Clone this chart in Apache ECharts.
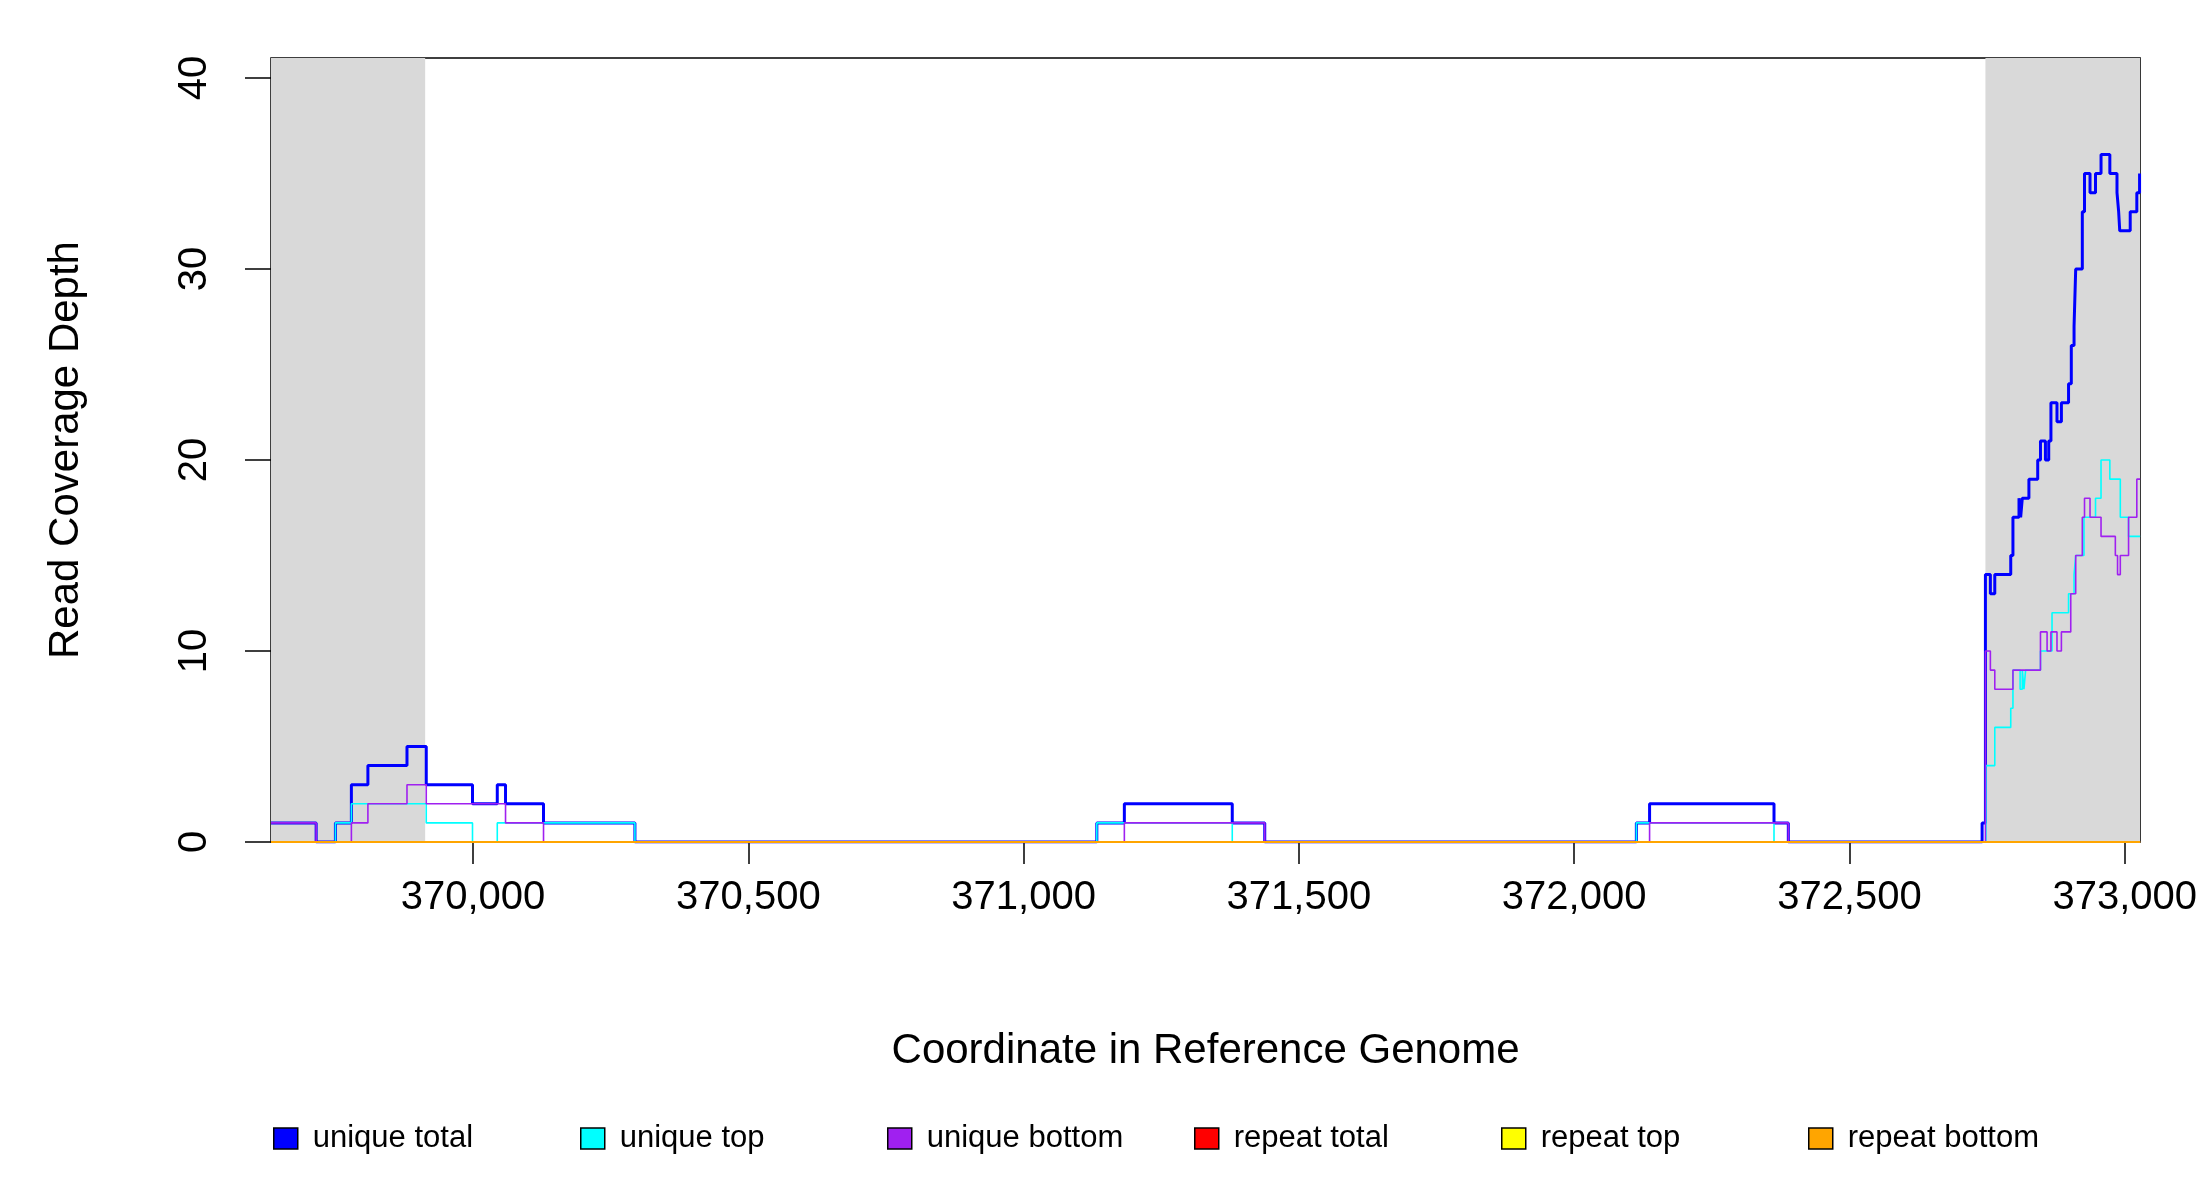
<!DOCTYPE html>
<html>
<head>
<meta charset="utf-8">
<script src="https://cdn.jsdelivr.net/npm/echarts@6/dist/echarts.min.js"></script>
<style>html,body{margin:0;padding:0;background:#fff}#c{width:2200px;height:1200px}</style>
</head>
<body>
<div id="c"></div>
<script>
// step data: [start coordinate, depth from there on]
var uniqueTotal = [[369633,1],[369715,0],[369750,1],[369779,3],[369809,4],[369880,5],[369915,3],[369999,2],[370044,3],[370059,2],[370128,1],[370294,0],[371133,1],[371183,2],[371379,1],[371438,0],[372113,1],[372137,2],[372363,1],[372389,0],[372741,1],[372747,14],[372756,13],[372764,14],[372793,15],[372797,17],[372808,18],[372811,17],[372814,18],[372826,19],[372842,20],[372847,21],[372856,20],[372862,21],[372866,23],[372877,22],[372885,23],[372898,24],[372903,26],[372908,27],[372911,30],[372923,33],[372927,35],[372937,34],[372947,35],[372957,36],[372973,35],[372986,34],[372989,33],[372991,32],[373010,33],[373022,34],[373027,35],[373028,35]];
var uniqueTop = [[369633,0],[369750,1],[369779,2],[369915,1],[369999,0],[370044,1],[370294,0],[371133,1],[371379,0],[372113,1],[372363,0],[372748,4],[372764,6],[372793,7],[372797,9],[372810,8],[372814,9],[372817,8],[372820,9],[372847,10],[372868,12],[372898,13],[372908,14],[372911,15],[372926,17],[372947,18],[372957,20],[372973,19],[372992,17],[373007,16],[373028,16]];
var uniqueBottom = [[369633,1],[369715,0],[369779,1],[369809,2],[369880,3],[369915,2],[370059,1],[370128,0],[371183,1],[371438,0],[372137,1],[372389,0],[372747,10],[372756,9],[372764,8],[372797,9],[372847,11],[372859,10],[372866,11],[372877,10],[372885,11],[372902,13],[372911,15],[372923,17],[372927,18],[372937,17],[372957,16],[372983,15],[372987,14],[372992,15],[373007,17],[373022,19],[373028,19]];
var repeatTotal = [[369633,0],[373028,0]];
var repeatTop = [[369633,0],[373028,0]];
var repeatBottom = [[369633,0],[373028,0]];
var shaded = [[369633,369913],[372747,373028]];
var xTicks = [370000,370500,371000,371500,372000,372500,373000];
var yTicks = [0,10,20,30,40];

var names = ['unique total','unique top','unique bottom','repeat total','repeat top','repeat bottom'];
var colors = ['#0000ff','#00ffff','#a020f0','#ff0000','#ffff00','#ffa500'];
var sets = [uniqueTotal, uniqueTop, uniqueBottom, repeatTotal, repeatTop, repeatBottom];
var widths = [3,1.6,1.6,1.6,1.6,2];
var legendLeft = [268,575,882,1189,1496,1803];

var font = 'Liberation Sans, Arial, sans-serif';
var chart = echarts.init(document.getElementById('c'));

var series = [{
	type: 'line', data: [], z: 1, silent: true,
	markArea: {
		silent: true,
		itemStyle: {color: '#d9d9d9'},
		data: shaded.map(function(s) { return [{xAxis: s[0], yAxis: 0}, {xAxis: s[1], yAxis: 41.05}]; })
	}
}];
names.forEach(function(n, i) {
	series.push({
		name: n, type: 'line', step: 'end', data: sets[i], symbol: 'none', z: 2 + i,
		lineStyle: {color: colors[i], width: widths[i]}, itemStyle: {color: colors[i]}
	});
});

chart.setOption({
	animation: false,
	backgroundColor: '#fff',
	grid: {left: 271, right: 59, top: 58, bottom: 358, show: true, borderColor: '#000', borderWidth: 1.5},
	xAxis: {
		type: 'value', min: 369633, max: 373028,
		name: 'Coordinate in Reference Genome', nameLocation: 'middle', nameGap: 188,
		nameTextStyle: {fontFamily: font, fontSize: 42, color: '#000'},
		axisLine: {show: false},
		axisTick: {show: true, length: 22, lineStyle: {color: '#000', width: 1.5}, customValues: xTicks},
		axisLabel: {fontFamily: font, fontSize: 40, color: '#000', margin: 36, customValues: xTicks},
		splitLine: {show: false}
	},
	yAxis: {
		type: 'value', min: 0, max: 41.05,
		name: 'Read Coverage Depth', nameLocation: 'middle', nameGap: 184, nameRotate: 90,
		nameTextStyle: {fontFamily: font, fontSize: 42, color: '#000'},
		axisLine: {show: false},
		axisTick: {show: true, length: 26, lineStyle: {color: '#000', width: 1.5}, customValues: yTicks},
		axisLabel: {fontFamily: font, fontSize: 40, color: '#000', rotate: 90, margin: 56, customValues: yTicks},
		splitLine: {show: false}
	},
	legend: names.map(function(n, i) {
		return {
			data: [{name: n, itemStyle: {color: colors[i], borderColor: '#000', borderWidth: 1.5}}],
			left: legendLeft[i], top: 1118, icon: 'rect', itemWidth: 24, itemHeight: 21, itemGap: 20,
			textStyle: {fontFamily: font, fontSize: 31, color: '#000', padding: [0, 0, 0, 10]},
			selectedMode: false
		};
	}),
	series: series
});
</script>
</body>
</html>
